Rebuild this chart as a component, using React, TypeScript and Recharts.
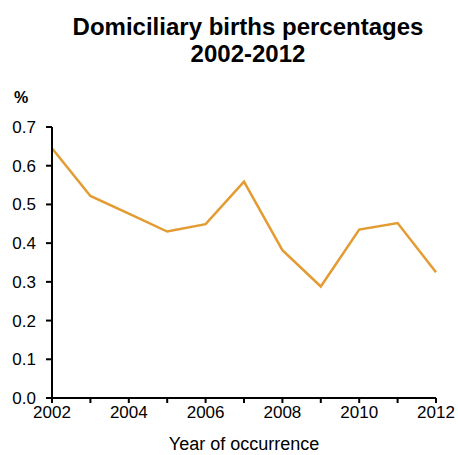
import React from 'react';
import { LineChart, Line, XAxis, YAxis } from 'recharts';

const years = [2002, 2003, 2004, 2005, 2006, 2007, 2008, 2009, 2010, 2011, 2012];
const percentages = [0.645, 0.522, 0.476, 0.43, 0.449, 0.559, 0.382, 0.288, 0.435, 0.452, 0.325];
const yTicks = [0, 0.1, 0.2, 0.3, 0.4, 0.5, 0.6, 0.7];

const data = years.map((year, i) => ({ year, value: percentages[i] }));

const font = '"Liberation Sans", Arial, sans-serif';

const App: React.FC = () => {
  return (
    <div style={{ position: 'absolute', left: 0, top: 0, width: 458, height: 455, fontFamily: font }}>
      <div
        style={{
          position: 'absolute',
          left: 48,
          width: 400,
          top: 13,
          textAlign: 'center',
          fontWeight: 'bold',
          fontSize: 24,
          lineHeight: '27px',
          color: '#000',
        }}
      >
        Domiciliary births percentages
        <br />
        2002-2012
      </div>
      <div style={{ position: 'absolute', left: 14, top: 89, fontWeight: 'bold', fontSize: 16, color: '#000' }}>%</div>
      <LineChart width={458} height={455} data={data} margin={{ top: 127, right: 22, left: 0, bottom: 27 }}>
        <XAxis
          dataKey="year"
          type="number"
          domain={[2002, 2012]}
          ticks={years}
          tickFormatter={(v: number) => (v % 2 === 0 ? String(v) : '')}
          axisLine={{ stroke: '#000', strokeWidth: 2 }}
          tickLine={{ stroke: '#000', strokeWidth: 2 }}
          tickSize={5}
          tickMargin={3}
          tick={{ fill: '#000', fontSize: 17, fontFamily: font }}
          interval={0}
          label={{ value: 'Year of occurrence', position: 'bottom', offset: 9, fill: '#000', fontSize: 18, fontFamily: font }}
        />
        <YAxis
          type="number"
          domain={[0, 0.7]}
          ticks={yTicks}
          width={52}
          tickFormatter={(v: number) => v.toFixed(1)}
          axisLine={{ stroke: '#000', strokeWidth: 2 }}
          tickLine={{ stroke: '#000', strokeWidth: 2 }}
          tickSize={6}
          tickMargin={10}
          tick={{ fill: '#000', fontSize: 17, fontFamily: font }}
          interval={0}
        />
        <Line
          type="linear"
          dataKey="value"
          stroke="#E39B32"
          strokeWidth={2.5}
          dot={false}
          isAnimationActive={false}
        />
      </LineChart>
    </div>
  );
};

export default App;
